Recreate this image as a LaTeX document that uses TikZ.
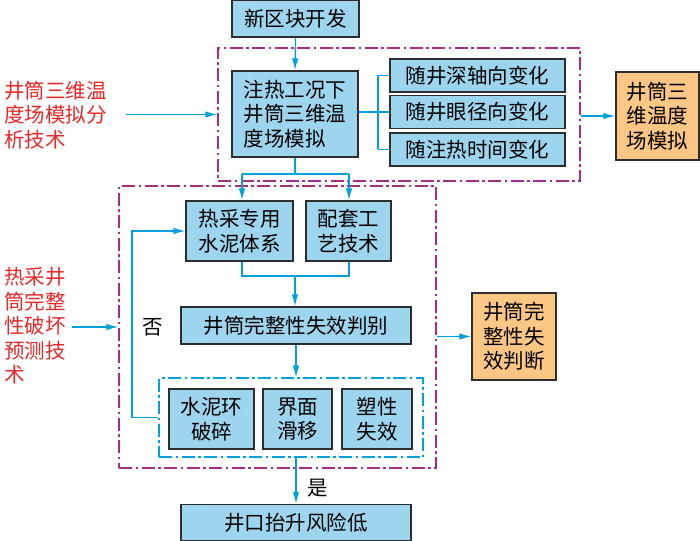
\documentclass[tikz,border=0pt]{standalone}
\usepackage{fontspec}
\newfontfamily\cjk{Noto Sans CJK SC}
\usetikzlibrary{arrows.meta}
\definecolor{boxblue}{RGB}{158,213,238}
\definecolor{boxorange}{RGB}{252,199,132}
\definecolor{linecyan}{RGB}{0,160,222}
\definecolor{framemag}{RGB}{165,45,130}
\definecolor{redtext}{RGB}{232,40,40}
\definecolor{edge}{RGB}{45,45,45}
\tikzset{
  bluebox/.style={draw=edge, line width=1.4pt, fill=boxblue, inner sep=0pt, align=center,
    font=\cjk\fontsize{20.5}{24.5}\selectfont},
  orangebox/.style={bluebox, fill=boxorange},
  magframe/.style={draw=framemag, line width=1.2pt, dash pattern=on 13pt off 3.5pt on 2.5pt off 3.5pt, inner sep=0pt},
  cyanframe/.style={draw=linecyan, line width=1.1pt, dash pattern=on 13pt off 3.5pt on 2.5pt off 3.5pt, inner sep=0pt},
  conn/.style={draw=linecyan, line width=1.2pt},
  arr/.style={conn, -{Latex[length=12pt,width=6.5pt]}},
  redlabel/.style={text=redtext, align=left, inner sep=0pt, font=\cjk\fontsize{20.5}{24.5}\selectfont},
  plainlabel/.style={inner sep=0pt, font=\cjk\fontsize{20.5}{24.5}\selectfont}
}
\begin{document}
\begin{tikzpicture}[x=1pt,y=-1pt]
\useasboundingbox (0,0) rectangle (700,540);
% frames
\node[magframe, minimum width=362pt, minimum height=133pt] (f1) at (399,114.5) {};
\node[magframe, minimum width=317pt, minimum height=282pt] (f2) at (277.5,327) {};
\node[cyanframe, minimum width=264pt, minimum height=79pt] (f3) at (291,417.5) {};
% boxes
\node[bluebox, minimum width=127pt, minimum height=37pt] (n1) at (295.5,18.5) {新区块开发};
\node[bluebox, minimum width=126pt, minimum height=86pt, align=left] (m) at (295,114) {注热工况下\\井筒三维温\\度场模拟};
\node[bluebox, minimum width=175pt, minimum height=33pt] (s1) at (477.5,75.5) {随井深轴向变化};
\node[bluebox, minimum width=175pt, minimum height=33pt] (s2) at (477.5,112) {随井眼径向变化};
\node[bluebox, minimum width=175pt, minimum height=33pt] (s3) at (477.5,149.5) {随注热时间变化};
\node[orangebox, minimum width=83pt, minimum height=88pt] (o1) at (657.5,116) {井筒三\\维温度\\场模拟};
\node[bluebox, minimum width=107pt, minimum height=60pt] (b1) at (239.5,231) {热采专用\\水泥体系};
\node[bluebox, minimum width=85pt, minimum height=60pt] (b2) at (348.5,231) {配套工\\艺技术};
\node[bluebox, minimum width=230pt, minimum height=37pt] (j) at (296,325.5) {井筒完整性失效判别};
\node[bluebox, minimum width=85pt, minimum height=60pt] (c1) at (211.5,419) {水泥环\\破碎};
\node[bluebox, minimum width=69pt, minimum height=60pt] (c2) at (297.5,419) {界面\\滑移};
\node[bluebox, minimum width=70pt, minimum height=60pt] (c3) at (377,419) {塑性\\失效};
\node[bluebox, minimum width=230pt, minimum height=36pt] (bt) at (296,522.5) {井口抬升风险低};
\node[orangebox, minimum width=84pt, minimum height=87pt] (o2) at (514,336.5) {井筒完\\整性失\\效判断};
% labels
\node[redlabel, anchor=west] (t1) at (4,115) {井筒三维温\\度场模拟分\\析技术};
\node[redlabel, anchor=west] (t2) at (4,326) {热采井\\筒完整\\性破坏\\预测技\\术};
\node[plainlabel] (no) at (153,327) {否};
\node[plainlabel] (yes) at (318,488) {是};
% coordinates
\coordinate (m1) at (295,174);
\coordinate (q1) at (242,174);
\coordinate (q2) at (349,174);
\coordinate (r1) at (242,276);
\coordinate (r2) at (349,276);
\coordinate (r0) at (295,276);
\coordinate (br) at (378,112);
\coordinate (lp) at (132,417.5);
\coordinate (a1) at (126,114.5);
\coordinate (a2) at (72,327);
% connectors
\draw[arr] (n1.south) -- (m.north);
\draw[conn] (m.east |- br) -- (br);
\draw[conn] (br |- s1.west) -- (br |- s3.west);
\draw[conn] (br |- s1.west) -- (s1.west);
\draw[conn] (br |- s2.west) -- (s2.west);
\draw[conn] (br |- s3.west) -- (s3.west);
\draw[arr] (f1.east |- o1.west) -- (o1.west);
\draw[arr] (a1) -- (f1.west);
\draw[conn] (m.south) -- (m1);
\draw[conn] (q1) -- (q2);
\draw[arr] (q1) -- (q1 |- b1.north);
\draw[arr] (q2) -- (q2 |- b2.north);
\draw[conn] (q1 |- b1.south) -- (r1) -- (r2) -- (q2 |- b2.south);
\draw[arr] (r0) -- (r0 |- j.north);
\draw[arr] (j.south) -- (j.south |- f3.north);
\draw[conn] (f3.west) -- (lp);
\draw[arr] (lp) |- (b1.west);
\draw[arr] (bt.north |- f3.south) -- (bt.north);
\draw[arr] (f2.east |- o2.west) -- (o2.west);
\draw[arr] (a2) -- (f2.west |- a2);
\end{tikzpicture}
\end{document}
